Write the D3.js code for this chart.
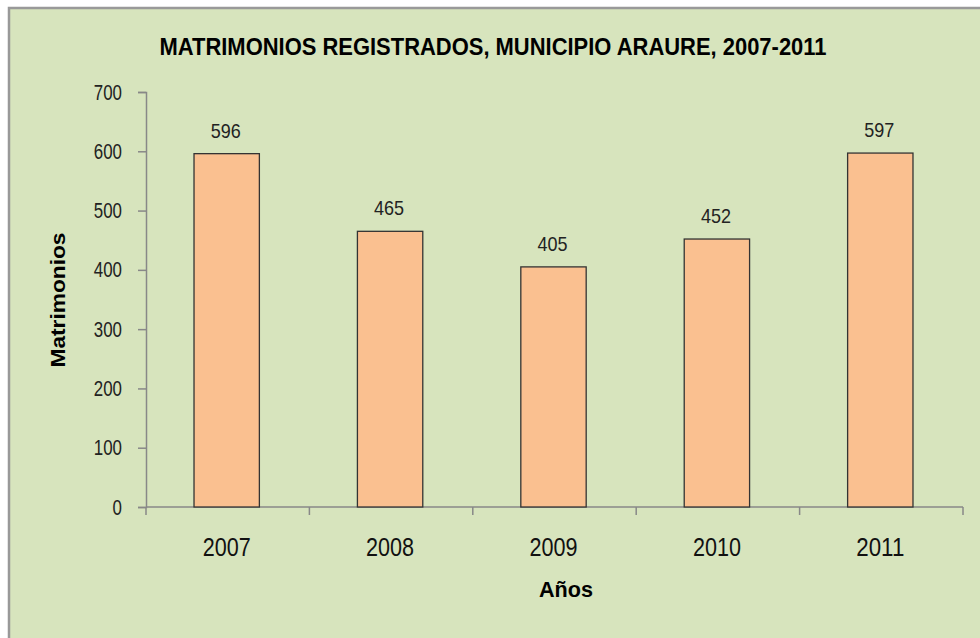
<!DOCTYPE html>
<html>
<head>
<meta charset="utf-8">
<script src="https://cdn.jsdelivr.net/npm/d3@7"></script>
<style>
  body { margin: 0; background: #fff; }
  text { font-family: "Liberation Sans", Arial, sans-serif; }
</style>
</head>
<body>
<script>
// data
var years = ["2007", "2008", "2009", "2010", "2011"];
var matrimonios = [596, 465, 405, 452, 597];
var yTicks = [0, 100, 200, 300, 400, 500, 600, 700];

var w = 980, h = 638;

var svg = d3.select("body").append("svg")
  .attr("width", w)
  .attr("height", h);

// chart area frame
svg.append("rect")
  .attr("x", 9).attr("y", 8)
  .attr("width", 990).attr("height", 660)
  .attr("fill", "#d7e4bd")
  .attr("stroke", "#999")
  .attr("stroke-width", 2.5);

var x = d3.scaleBand().domain(years).range([146, 963]);
var y = d3.scaleLinear().domain([0, 700]).range([507, 92]);

// the original uses a narrow font, so squeeze the glyphs
function narrow(sel, perChar) {
  sel.attr("textLength", function() { return this.textContent.length * perChar; })
    .attr("lengthAdjust", "spacingAndGlyphs");
}

// y axis
var yAxis = svg.append("g")
  .attr("transform", "translate(146,0)")
  .call(d3.axisLeft(y).tickValues(yTicks).tickSize(8).tickPadding(16));
yAxis.select(".domain").attr("stroke", "#888").attr("stroke-width", 1.5);
yAxis.selectAll(".tick line").attr("stroke", "#888").attr("stroke-width", 1.5);
yAxis.selectAll(".tick text")
  .attr("fill", "#222")
  .style("font-size", "22px")
  .style("font-family", null)
  .call(narrow, 9.4);

// x axis, ticks on band edges
var xAxis = svg.append("g")
  .attr("transform", "translate(0,507)");
xAxis.append("line")
  .attr("x1", 146).attr("x2", 963)
  .attr("stroke", "#888").attr("stroke-width", 1.5);
xAxis.selectAll("line.tk")
  .data(years.concat(["end"]))
  .enter().append("line")
  .attr("class", "tk")
  .attr("x1", function(d, i) { return i < years.length ? x(d) : x.range()[1]; })
  .attr("x2", function(d, i) { return i < years.length ? x(d) : x.range()[1]; })
  .attr("y1", 0).attr("y2", 8)
  .attr("stroke", "#888").attr("stroke-width", 1.5);
xAxis.selectAll("text")
  .data(years)
  .enter().append("text")
  .attr("x", function(d) { return x(d) + x.bandwidth() / 2 - 1; })
  .attr("y", 49)
  .attr("text-anchor", "middle")
  .attr("fill", "#111")
  .style("font-size", "25px")
  .text(function(d) { return d; })
  .call(narrow, 12);

// bars
var barW = x.bandwidth() * 0.4;
svg.selectAll("rect.bar")
  .data(matrimonios)
  .enter().append("rect")
  .attr("class", "bar")
  .attr("x", function(d, i) { return x(years[i]) + (x.bandwidth() - barW) / 2 - 1; })
  .attr("y", function(d) { return y(d); })
  .attr("width", barW)
  .attr("height", function(d) { return y(0) - y(d); })
  .attr("fill", "#fac090")
  .attr("stroke", "#333")
  .attr("stroke-width", 1.3);

// value labels
svg.selectAll("text.val")
  .data(matrimonios)
  .enter().append("text")
  .attr("class", "val")
  .attr("x", function(d, i) { return x(years[i]) + x.bandwidth() / 2 - 2; })
  .attr("y", function(d) { return y(d) - 16; })
  .attr("text-anchor", "middle")
  .attr("fill", "#222")
  .style("font-size", "21px")
  .text(function(d) { return d; })
  .call(narrow, 10);

// title
svg.append("text")
  .attr("x", 493).attr("y", 55)
  .attr("text-anchor", "middle")
  .attr("fill", "#000")
  .style("font-size", "24px")
  .style("font-weight", "bold")
  .attr("textLength", 667)
  .attr("lengthAdjust", "spacingAndGlyphs")
  .text("MATRIMONIOS REGISTRADOS, MUNICIPIO ARAURE, 2007-2011");

// axis titles
svg.append("text")
  .attr("transform", "translate(65,300) rotate(-90)")
  .attr("text-anchor", "middle")
  .attr("fill", "#000")
  .style("font-size", "21px")
  .style("font-weight", "bold")
  .attr("textLength", 135)
  .attr("lengthAdjust", "spacingAndGlyphs")
  .text("Matrimonios");

svg.append("text")
  .attr("x", 566).attr("y", 597)
  .attr("text-anchor", "middle")
  .attr("fill", "#000")
  .style("font-size", "22px")
  .style("font-weight", "bold")
  .attr("textLength", 54)
  .attr("lengthAdjust", "spacingAndGlyphs")
  .text("Años");
</script>
</body>
</html>
